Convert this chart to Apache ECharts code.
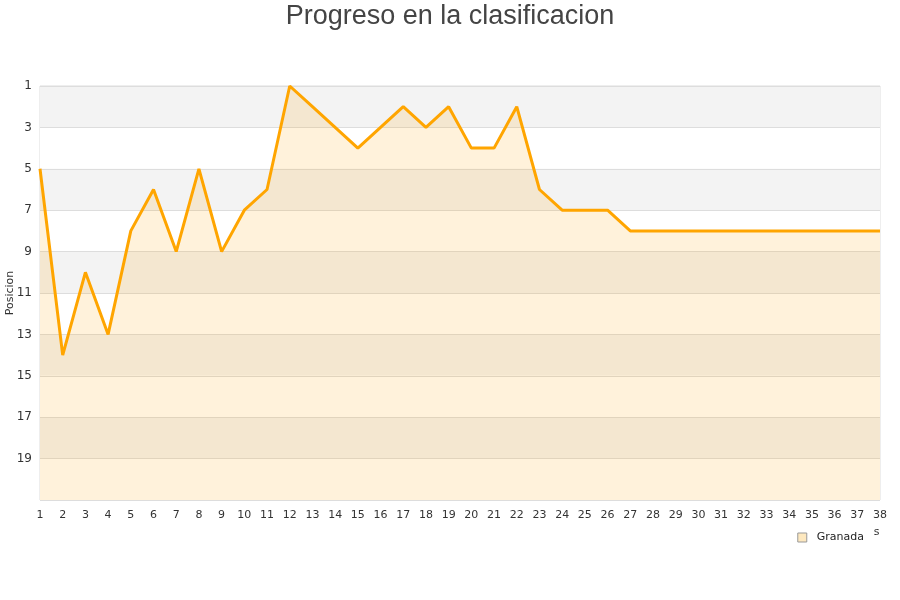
<!DOCTYPE html>
<html>
<head>
<meta charset="utf-8">
<script src="https://cdn.jsdelivr.net/npm/echarts@6/dist/echarts.min.js"></script>
<style>html,body{margin:0;padding:0;background:#fff}#c{width:900px;height:600px}</style>
</head>
<body>
<div id="c"></div>
<script>
const jornadas = ['1','2','3','4','5','6','7','8','9','10','11','12','13','14','15','16','17','18','19','20','21','22','23','24','25','26','27','28','29','30','31','32','33','34','35','36','37','38'];
const granada = [5,14,10,13,8,6,9,5,9,7,6,1,2,3,4,3,2,3,2,4,4,2,6,7,7,7,8,8,8,8,8,8,8,8,8,8,8,8];
const titleText = 'Progreso en la clasificacion';
const seriesName = 'Granada';

const chart = echarts.init(document.getElementById('c'), null, {renderer: 'canvas'});
chart.setOption({
  animation: false,
  backgroundColor: '#fff',
  title: {
    text: titleText, left: 'center', top: -2,
    textStyle: {fontFamily: 'Liberation Sans, Arial, sans-serif', fontSize: 27, fontWeight: 'normal', color: '#444'}
  },
  grid: {left: 40, right: 20, top: 86, bottom: 100, containLabel: false, outerBoundsMode: 'none',
    show: true, borderColor: '#ddd', borderWidth: 1, backgroundColor: 'transparent'},
  xAxis: {
    type: 'category', data: jornadas, boundaryGap: false,
    name: 'Jornadas', nameLocation: 'end', nameGap: -48, nameMoveOverlap: false,
    nameTextStyle: {fontFamily: 'DejaVu Sans', fontSize: 11, color: '#333', align: 'left', verticalAlign: 'top', padding: [27, 0, 0, 0]},
    axisLine: {show: false}, axisTick: {show: false},
    axisLabel: {fontFamily: 'DejaVu Sans', fontSize: 11, color: '#333', margin: 10, interval: 0}
  },
  yAxis: {
    type: 'value', inverse: true, min: 1, max: 21, interval: 2,
    name: 'Posicion', nameLocation: 'middle', nameGap: 24, nameMoveOverlap: false,
    nameTextStyle: {fontFamily: 'DejaVu Sans', fontSize: 11, color: '#333'},
    axisLine: {show: false}, axisTick: {show: false},
    axisLabel: {fontFamily: 'DejaVu Sans', fontSize: 12, color: '#333', margin: 8,
      formatter: v => (v === 21 ? '' : String(v))},
    splitLine: {show: true, lineStyle: {color: '#ddd'}},
    splitArea: {show: true, areaStyle: {color: ['#f3f3f3', '#ffffff']}}
  },
  legend: {
    right: 27, top: 527, backgroundColor: '#fff', padding: [5, 9, 5, 6],
    itemWidth: 9, itemHeight: 9, itemGap: 8,
    textStyle: {fontFamily: 'DejaVu Sans', fontSize: 11, color: '#222', padding: [0, 0, 0, 5]},
    data: [{name: seriesName, icon: 'rect', itemStyle: {color: '#fde8bf', borderColor: '#999', borderWidth: 1}}]
  },
  series: [{
    name: seriesName, type: 'line', data: granada,
    symbol: 'none', smooth: false,
    lineStyle: {color: '#ffa500', width: 3},
    itemStyle: {color: '#fde8bf', borderColor: '#999'},
    areaStyle: {color: 'rgba(255,165,0,0.2)', origin: 'end'}
  }]
});
</script>
</body>
</html>
